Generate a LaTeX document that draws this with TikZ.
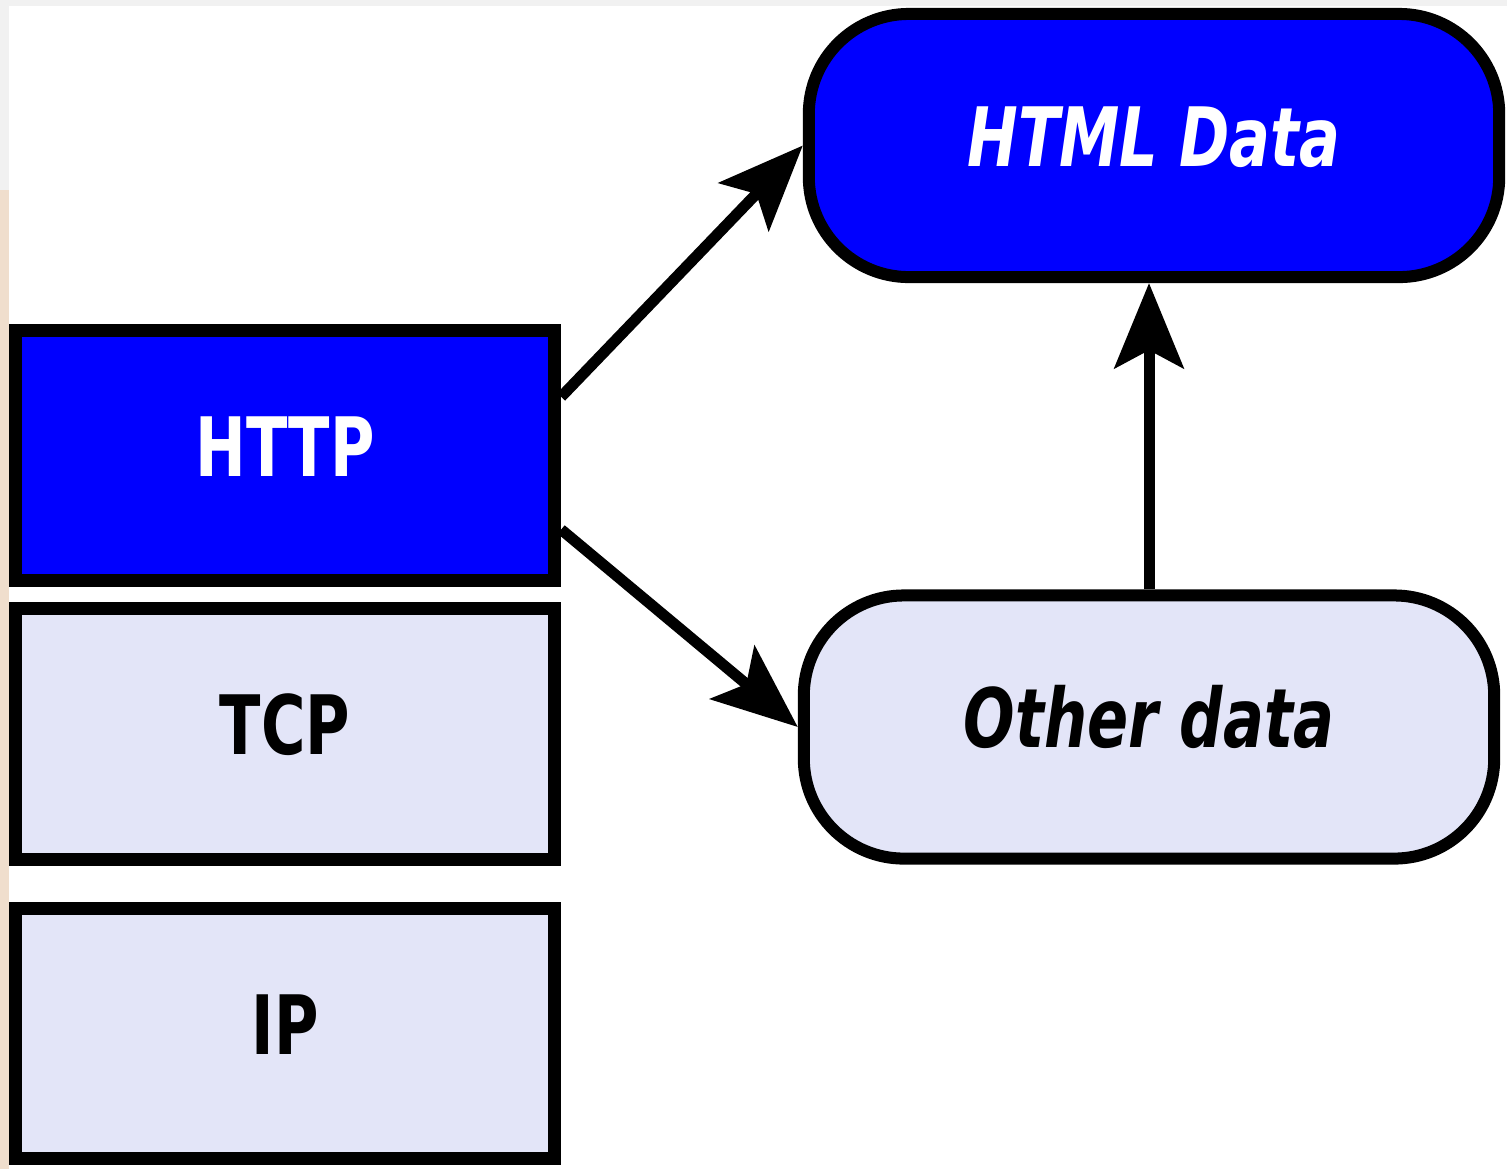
\documentclass[tikz,border=0pt]{standalone}
\usepackage{fontspec}
\usetikzlibrary{arrows.meta}
\newfontfamily\boxfont{DejaVu Sans}[FakeStretch=0.74]
\definecolor{stackblue}{RGB}{0,0,255}
\definecolor{stackpale}{RGB}{227,229,248}
\definecolor{edgegray}{RGB}{241,241,241}
\definecolor{edgebeige}{RGB}{240,222,205}
\tikzset{layer/.style = {draw, line width=0.13cm, minimum width=5.39cm,
                         minimum height=2.5cm, text height=0.59cm, text depth=0.18cm,
                         font=\boxfont\bfseries\fontsize{23.3}{28}\selectfont}}
\tikzset{blob/.style = {draw, rounded corners=1cm, line width=0.12cm,
                        minimum width=6.9cm, minimum height=2.63cm,
                        text height=0.59cm, text depth=0.18cm,
                        font=\boxfont\bfseries\itshape\fontsize{23.3}{28}\selectfont}}
\tikzset{flow/.style = {line width=0.11cm,
                        -{Stealth[length=0.85cm, width=0.69cm, inset=0.18cm]}}}

\begin{document}
\begin{tikzpicture}[x=0.01cm, y=-0.01cm]
  \useasboundingbox (0, 0) rectangle (1507, 1169);
  \fill [white] (0, 0) rectangle (1507, 1169);
  \fill [edgegray] (0, 0) rectangle (1507, 6);
  \fill [edgegray] (0, 0) rectangle (9, 190);
  \fill [edgebeige] (0, 190) rectangle (9, 1169);

  % protocol stack
  \node [layer, fill=stackblue, text=white] (http) at (285, 455.5) {HTTP};
  \node [layer, fill=stackpale] (tcp) at (285, 734) {TCP};
  \node [layer, fill=stackpale] (ip) at (285, 1033.5) {IP};

  % payloads
  \node [blob, fill=stackblue, text=white] (html) at (1154, 145.5) {HTML Data};
  \node [blob, fill=stackpale] (other) at (1149, 727) {Other data};

  \draw [flow] (http.12) -- (html.west);
  \draw [flow] (http.-15) -- (other.west);
  \draw [flow] (other.north) -- (other.north |- html.south);
\end{tikzpicture}
\end{document}
